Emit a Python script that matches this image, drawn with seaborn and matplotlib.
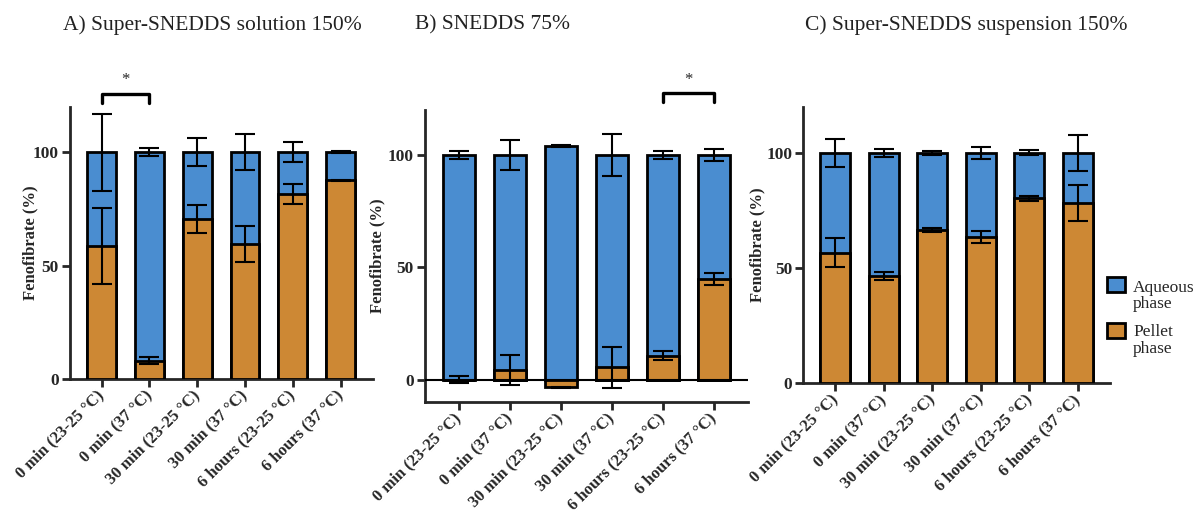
import numpy as np
import pandas as pd
import matplotlib
matplotlib.use("Agg")
import matplotlib.pyplot as plt
import seaborn as sns
from matplotlib.patches import Rectangle

categories = ["0 min (23-25 °C)", "0 min (37 °C)", "30 min (23-25 °C)",
              "30 min (37 °C)", "6 hours (23-25 °C)", "6 hours (37 °C)"]

titles = ["A) Super-SNEDDS solution 150%", "B) SNEDDS 75%", "C) Super-SNEDDS suspension 150%"]
legend_labels = [("Aqueous", "phase"), ("Pellet", "phase")]

pellet_A = [58.5, 8.1, 70.5, 59.6, 81.6, 87.6]
pellet_sd_A = [16.7, 1.5, 6.0, 8.0, 4.4, 0.3]
aqueous_A = [41.5, 91.9, 29.5, 40.4, 18.4, 12.4]
aqueous_sd_A = [17.0, 1.6, 6.0, 8.0, 4.4, 0.3]

pellet_B = [0.0, 4.3, -3.4, 5.5, 10.7, 44.8]
pellet_sd_B = [1.7, 6.6, 0.3, 9.1, 1.9, 2.8]
aqueous_B = [100.0, 95.7, 104.0, 94.5, 89.3, 55.2]
aqueous_sd_B = [1.9, 6.6, 0.3, 9.3, 1.9, 2.7]

pellet_C = [56.6, 46.5, 66.5, 63.4, 80.2, 78.3]
pellet_sd_C = [6.3, 1.8, 0.9, 2.6, 1.2, 7.7]
aqueous_C = [43.4, 53.5, 33.5, 36.6, 19.8, 21.7]
aqueous_sd_C = [6.2, 1.8, 0.9, 2.6, 1.1, 7.9]

# significance brackets: (bar i, bar j, label)
sig_A = (0, 1, "*")
sig_B = (4, 5, "*")

BLUE = "#4a8dd0"
ORANGE = "#cd8834"

sns.set_theme(style="ticks")
plt.rcParams["font.family"] = ["Liberation Serif", "DejaVu Serif"]
plt.rcParams["axes.linewidth"] = 2

W, H = 1194, 517
fig = plt.figure(figsize=(W / 100, H / 100), dpi=100)

def px_axes(l, t, r, b):
    return fig.add_axes([l / W, 1 - b / H, (r - l) / W, (b - t) / H])

axA = px_axes(70, 106.7, 372.7, 379)
axB = px_axes(425, 110, 748, 402)
axC = px_axes(803.3, 106.7, 1110, 383.3)

panels = [
    (axA, pellet_A, pellet_sd_A, aqueous_A, aqueous_sd_A, (0, 120), sig_A, 0.6, 38),
    (axB, pellet_B, pellet_sd_B, aqueous_B, aqueous_sd_B, (-10, 120), sig_B, 0.63, 385),
    (axC, pellet_C, pellet_sd_C, aqueous_C, aqueous_sd_C, (0, 120), None, 0.62, 765),
]

for ax, pel, pel_sd, aq, aq_sd, ylim, sig, bw, ylab_x in panels:
    pel = np.array(pel)
    aq = np.array(aq)
    top = np.maximum(pel, 0) + aq
    df_top = pd.DataFrame({"cat": categories, "val": top})
    df_pel = pd.DataFrame({"cat": categories, "val": pel})
    sns.barplot(data=df_top, x="cat", y="val", color=BLUE, saturation=1,
                width=bw, edgecolor="black", linewidth=2, errorbar=None, ax=ax, zorder=2)
    sns.barplot(data=df_pel, x="cat", y="val", color=ORANGE, saturation=1,
                width=bw, edgecolor="black", linewidth=2, errorbar=None, ax=ax, zorder=3)
    xs = np.arange(len(categories))
    ax.errorbar(xs, top, yerr=aq_sd, fmt="none", ecolor="black", elinewidth=1.5,
                capsize=7, capthick=1.5, zorder=5)
    ax.errorbar(xs, pel, yerr=pel_sd, fmt="none", ecolor="black", elinewidth=1.5,
                capsize=7, capthick=1.5, zorder=5)
    ax.set_xlim(-0.66, len(categories) - 1 + 0.67)
    ax.set_ylim(*ylim)
    ax.set_yticks([0, 50, 100])
    ax.set_xlabel("")
    ax.set_ylabel("Fenofibrate (%)", fontsize=12, fontweight="bold")
    sns.despine(ax=ax)
    ax.tick_params(axis="both", direction="out", length=6, width=2, labelsize=12.5, pad=2)
    ax.tick_params(axis="x", pad=4)
    for lab in ax.get_yticklabels():
        lab.set_fontweight("bold")
    ax.set_xticks(xs)
    ax.set_xticklabels(categories, rotation=45, ha="right", va="center",
                       rotation_mode="anchor", fontweight="bold", fontsize=12)
    if ylim[0] < 0:
        ax.axhline(0, color="black", lw=1.5, zorder=4)
    if sig is not None:
        i, j, s = sig
        y0 = 121.8 if ylim[0] == 0 else 123.4
        y1 = y0 + 4
        ax.plot([i, i, j, j], [y0, y1, y1, y0], color="black", lw=2.4, clip_on=False)
        ax.text((i + j) / 2, y1 + 2.5, s, ha="center", va="bottom", fontsize=12, clip_on=False)
    bb = ax.get_position()
    ax.yaxis.set_label_coords((ylab_x / W - bb.x0) / bb.width, 0.5)

title_x = [63, 415, 805]
for t, x in zip(titles, title_x):
    fig.text(x / W, 1 - 25 / H, t, ha="left", va="center", fontsize=15.5, color="#222222")

# legend (key boxes aligned with the first line of each two-line label)
legend_rows = [(BLUE, 277, 292, 308), (ORANGE, 323, 336, 353)]
for (color, box_top, base1, base2), (l1, l2) in zip(legend_rows, legend_labels):
    fig.add_artist(Rectangle((1107 / W, 1 - (box_top + 15) / H), 18 / W, 15 / H,
                             transform=fig.transFigure, facecolor=color,
                             edgecolor="black", linewidth=2))
    fig.text(1133 / W, 1 - base1 / H, l1, ha="left", va="baseline", fontsize=12.5)
    fig.text(1133 / W, 1 - base2 / H, l2, ha="left", va="baseline", fontsize=12.5)

fig.savefig("out.png", dpi=100)
